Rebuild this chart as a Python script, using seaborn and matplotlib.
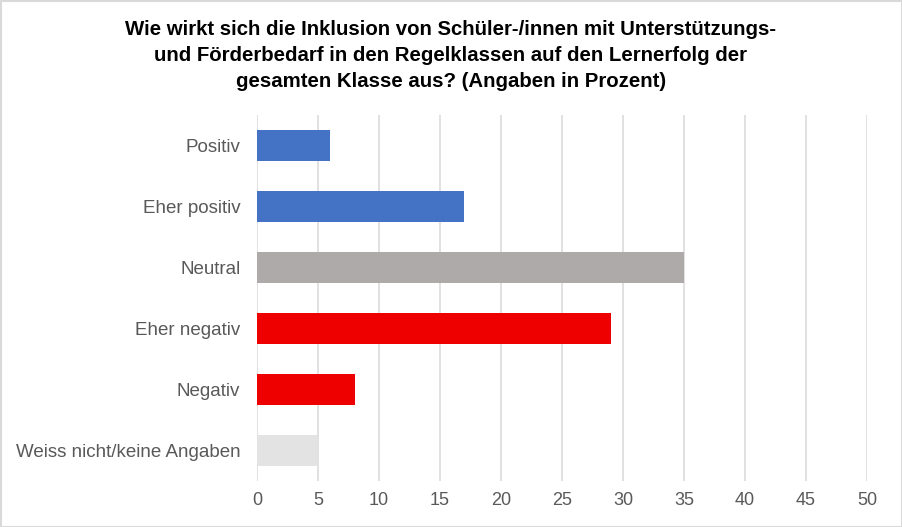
import matplotlib
matplotlib.use("Agg")
import matplotlib.pyplot as plt
import seaborn as sns
import pandas as pd
from matplotlib.patches import Rectangle

categories = ["Positiv", "Eher positiv", "Neutral", "Eher negativ", "Negativ", "Weiss nicht/keine Angaben"]
values = [6, 17, 35, 29, 8, 5]
colors = ["#4472C4", "#4472C4", "#AEAAAA", "#EE0000", "#EE0000", "#E3E3E3"]
x_ticks = [0, 5, 10, 15, 20, 25, 30, 35, 40, 45, 50]
title = ("Wie wirkt sich die Inklusion von Schüler-/innen mit Unterstützungs-\n"
         "und Förderbedarf in den Regelklassen auf den Lernerfolg der\n"
         "gesamten Klasse aus? (Angaben in Prozent)")

df = pd.DataFrame({"Kategorie": categories, "Wert": values})

sns.set_theme(style="white")
plt.rcParams["font.family"] = ["Liberation Sans", "DejaVu Sans"]

fig = plt.figure(figsize=(9.02, 5.27), dpi=100)
ax = fig.add_axes([257/902, 1-481/527, 610/902, 366/527])

sns.barplot(data=df, y="Kategorie", x="Wert", hue="Kategorie", palette=colors,
            orient="h", width=0.5, legend=False, ax=ax, saturation=1, zorder=3,
            linewidth=0)

ax.set_xlim(0, 50)
ax.set_ylim(5.5, -0.5)
ax.set_xticks(x_ticks)
ax.set_xlabel("")
ax.set_ylabel("")
ax.grid(axis="x", color="#D9D9D9", linewidth=1.1, zorder=0)
ax.grid(axis="y", visible=False)
for s in ax.spines.values():
    s.set_visible(False)
ax.tick_params(axis="both", length=0, colors="#595959", labelsize=13)
ax.tick_params(axis="y", pad=12, labelsize=13.5)
ax.tick_params(axis="x", pad=8)

fig.text(0.5, 1-20/527, title, ha="center", va="top", fontsize=14.7, fontweight="bold",
         color="black", linespacing=1.47)

fig.patches.append(Rectangle((0.5/902, 0.5/527), 1-1/902, 1-1/527, transform=fig.transFigure,
                             fill=False, edgecolor="#D9D9D9", linewidth=1.5))

fig.savefig("out.png", dpi=100)
